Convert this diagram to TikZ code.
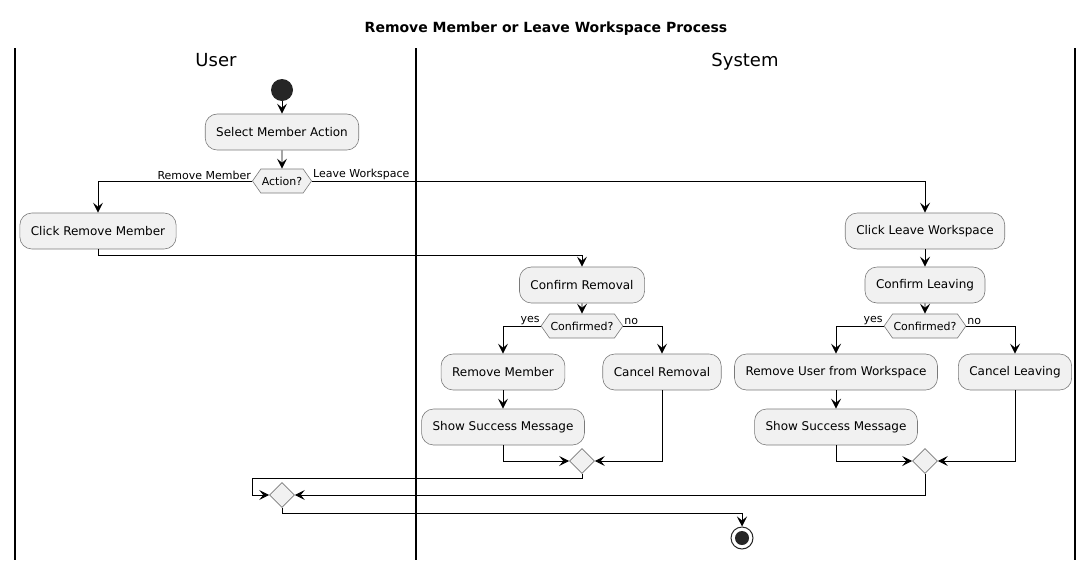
\documentclass[tikz,border=0pt]{standalone}
\usepackage{fontspec}
\setmainfont{DejaVu Sans}
\usetikzlibrary{arrows.meta,shapes.geometric,shapes.symbols}
\definecolor{actfill}{HTML}{F1F1F1}
\definecolor{actline}{HTML}{7A7A7A}

\begin{document}
\begin{tikzpicture}[x=1pt,y=-1pt,>={Stealth[length=10pt,width=10pt,inset=4pt]},
  act/.style={draw=actline,line width=0.6pt,fill=actfill,rounded corners=12pt,
    minimum height=36pt,inner xsep=11pt,font=\fontsize{12}{14}\selectfont},
  choice/.style={draw=actline,line width=0.6pt,fill=actfill,shape=signal,
    signal to=east and west,signal pointer angle=110,minimum height=24pt,
    inner xsep=1pt,inner ysep=0pt,font=\fontsize{11}{13}\selectfont},
  merge/.style={draw=actline,line width=0.6pt,fill=actfill,shape=diamond,
    minimum size=25pt,inner sep=0pt},
  lbl/.style={inner sep=1pt,font=\fontsize{11}{13}\selectfont},
  head/.style={anchor=base,font=\fontsize{18}{20}\selectfont},
  flow/.style={->,line width=0.9pt},
  lane/.style={line width=1.5pt}]
  \useasboundingbox (0,0) rectangle (1092,560);
  % ---------- title and lanes
  \node[anchor=base,font=\fontsize{14}{16}\selectfont\bfseries] (title) at (546,32) {Remove Member or Leave Workspace Process};
  \draw[lane] (15,48) -- (15,560);
  \draw[lane] (416,48) -- (416,560);
  \draw[lane] (1075,48) -- (1075,560);
  \node[head] (user) at (216,66) {User};
  \node[head] (system) at (745,66) {System};
  % ---------- user lane
  \node[circle,fill=black!85,minimum size=22pt,inner sep=0pt] (start) at (282,90) {};
  \node[act] (sel) at (282,132) {Select Member Action};
  \node[choice] (act) at (282,181) {Action?};
  \node[act] (crm) at (98,231) {Click Remove Member};
  \node[merge] (mgall) at (282,495) {};
  % ---------- system lane, removal
  \node[act] (cfr) at (582,285) {Confirm Removal};
  \node[choice] (okr) at (582,326) {Confirmed?};
  \node[act] (rmm) at (503,372) {Remove Member};
  \node[act] (ssr) at (503,427) {Show Success Message};
  \node[act] (cnr) at (662,372) {Cancel Removal};
  \node[merge] (mgr) at (582,461) {};
  % ---------- system lane, leaving
  \node[act] (clw) at (925,231) {Click Leave Workspace};
  \node[act] (cfl) at (925,285) {Confirm Leaving};
  \node[choice] (okl) at (925,326) {Confirmed?};
  \node[act] (rmu) at (836,372) {Remove User from Workspace};
  \node[act] (ssl) at (836,427) {Show Success Message};
  \node[act] (cnl) at (1015,372) {Cancel Leaving};
  \node[merge] (mgl) at (925,461) {};
  \node[circle,draw=black!85,line width=1pt,fill=white,minimum size=22pt,inner sep=0pt] (stop) at (742,538) {};
  \fill[black!85] (stop.center) circle (7pt);
  % ---------- branch labels
  \node[lbl,anchor=south east] (lrm) at (act.west) {Remove Member};
  \node[lbl,anchor=south west] (llw) at (act.east) {Leave Workspace};
  \node[lbl,anchor=south east] (ryes) at (okr.west) {yes};
  \node[lbl,anchor=south west] (rno) at (okr.east) {no};
  \node[lbl,anchor=south east] (lyes) at (okl.west) {yes};
  \node[lbl,anchor=south west] (lno) at (okl.east) {no};
  % ---------- flows
  \coordinate (back) at (252,478);
  \draw[flow] (start) -- (sel);
  \draw[flow] (sel) -- (act);
  \draw[flow] (act.west) -| (crm.north);
  \draw[flow] (act.east) -| (clw.north);
  \draw[flow] (crm.south) -- ++(0,6) -| (cfr.north);
  \draw[flow] (cfr) -- (okr);
  \draw[flow] (okr.west) -| (rmm.north);
  \draw[flow] (okr.east) -| (cnr.north);
  \draw[flow] (rmm) -- (ssr);
  \draw[flow] (ssr.south) |- (mgr.west);
  \draw[flow] (cnr.south) |- (mgr.east);
  \draw[flow] (clw) -- (cfl);
  \draw[flow] (cfl) -- (okl);
  \draw[flow] (okl.west) -| (rmu.north);
  \draw[flow] (okl.east) -| (cnl.north);
  \draw[flow] (rmu) -- (ssl);
  \draw[flow] (ssl.south) |- (mgl.west);
  \draw[flow] (cnl.south) |- (mgl.east);
  \draw[flow] (mgr.south) |- (back) |- (mgall.west);
  \draw[flow] (mgl.south) |- (mgall.east);
  \draw[flow] (mgall.south) -- ++(0,6) -| (stop.north);
\end{tikzpicture}
\end{document}
